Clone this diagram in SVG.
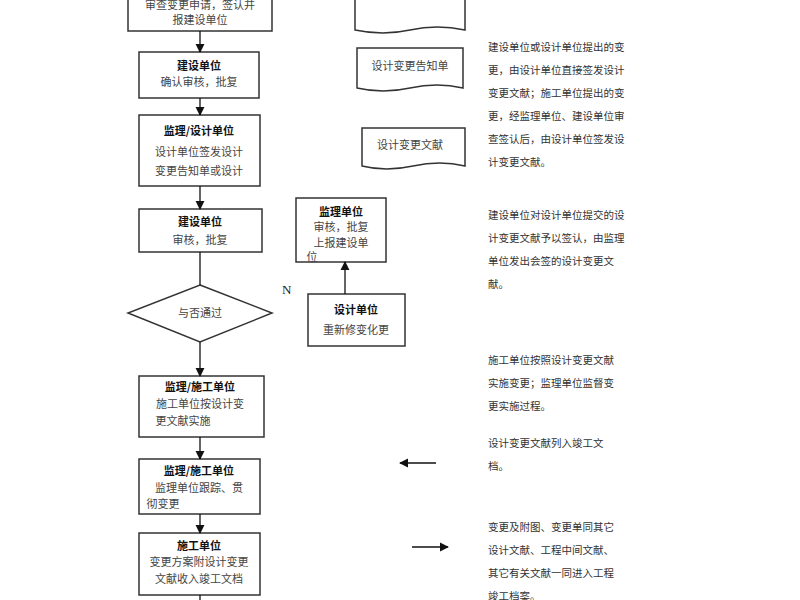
<svg xmlns="http://www.w3.org/2000/svg" width="800" height="600" viewBox="0 0 800 600">
<defs>
<marker id="ah" viewBox="0 0 10 10" refX="9" refY="5" markerWidth="7" markerHeight="7" orient="auto"><path d="M0,0 L10,5 L0,10 z" fill="#111"/></marker>
<style>
.b{fill:#fff;stroke:#333;stroke-width:1.5}
.t{font-family:"Noto Sans CJK SC","Liberation Serif",serif;font-size:11px;fill:#444;text-anchor:middle}
.h{font-weight:bold;fill:#111}
.r{font-family:"Noto Sans CJK SC","Liberation Serif",serif;font-size:10.5px;fill:#333}
.c{stroke:#111;stroke-width:1.3;fill:none}
</style>
</defs>
<rect width="800" height="600" fill="#fff"/>
<g id="n1"><rect class="b" x="128" y="-10" width="144" height="41"/><text class="t" x="200" y="9">审查变更申请，签认并</text><text class="t" x="200" y="24">报建设单位</text></g>
<g id="n2"><rect class="b" x="139" y="52" width="120" height="46"/><text class="t h" x="199" y="70">建设单位</text><text class="t" x="199" y="86">确认审核，批复</text></g>
<g id="n3"><rect class="b" x="139" y="115" width="121" height="71"/><text class="t h" x="199" y="135">监理/设计单位</text><text class="t" x="199" y="156">设计单位签发设计</text><text class="t" x="199" y="175">变更告知单或设计</text></g>
<g id="n4"><rect class="b" x="139" y="209" width="123" height="43"/><text class="t h" x="200" y="226">建设单位</text><text class="t" x="200" y="244">审核，批复</text></g>
<g id="n5"><polygon class="b" points="200,285 272,313 200,342 128,313"/><text class="t" x="200" y="317">与否通过</text></g>
<g id="n6"><rect class="b" x="139" y="376" width="125" height="61"/><text class="t h" x="200" y="391">监理/施工单位</text><text class="t" x="200" y="408">施工单位按设计变</text><text class="t" x="183" y="425">更文献实施</text></g>
<g id="n7"><rect class="b" x="139" y="459" width="121" height="55"/><text class="t h" x="199" y="475">监理/施工单位</text><text class="t" x="199" y="492">监理单位跟踪、贯</text><text class="t" x="163" y="508">彻变更</text></g>
<g id="n8"><rect class="b" x="139" y="533" width="121" height="62"/><text class="t h" x="199" y="550">施工单位</text><text class="t" x="199" y="566">变更方案附设计变更</text><text class="t" x="199" y="583">文献收入竣工文档</text></g>
<g id="n9"><rect class="b" x="296" y="198" width="90" height="64"/><text class="t h" x="341" y="216">监理单位</text><text class="t" x="341" y="231">审核，批复</text><text class="t" x="341" y="247">上报建设单</text><text class="t" x="312" y="261">位</text></g>
<g id="n10"><rect class="b" x="308" y="294" width="97" height="52"/><text class="t h" x="356" y="314">设计单位</text><text class="t" x="356" y="334">重新修变化更</text></g>
<g id="d1"><path class="b" stroke-width="1" d="M355,-5 H465 V30 Q437,24 410,30 T355,30 Z"/></g>
<g id="d2"><path class="b" stroke-width="1" d="M357,48 H463 V88 Q437,82 410,88 T357,88 Z"/><text class="t" x="410" y="70">设计变更告知单</text></g>
<g id="d3"><path class="b" stroke-width="1" d="M362,128 H465 V166 Q440,160 413,166 T362,166 Z"/><text class="t" x="410" y="149">设计变更文献</text></g>
<text x="282" y="294" font-family="Liberation Serif,serif" font-size="13" fill="#222">N</text>
<g id="notes" class="r">
<text x="488" y="51">建设单位或设计单位提出的变</text><text x="488" y="74">更，由设计单位直接签发设计</text><text x="488" y="97">变更文献；施工单位提出的变</text><text x="488" y="120">更，经监理单位、建设单位审</text><text x="488" y="143">查签认后，由设计单位签发设</text><text x="488" y="166">计变更文献。</text>
<text x="488" y="219">建设单位对设计单位提交的设</text><text x="488" y="242">计变更文献予以签认，由监理</text><text x="488" y="265">单位发出会签的设计变更文</text><text x="488" y="288">献。</text>
<text x="488" y="364">施工单位按照设计变更文献</text><text x="488" y="387">实施变更；监理单位监督变</text><text x="488" y="410">更实施过程。</text>
<text x="488" y="447">设计变更文献列入竣工文</text><text x="488" y="470">档。</text>
<text x="488" y="531">变更及附图、变更单同其它</text><text x="488" y="554">设计文献、工程中间文献、</text><text x="488" y="577">其它有关文献一同进入工程</text><text x="488" y="600">竣工档案。</text>
</g>
<g id="connectors">
<line class="c" x1="200" y1="31" x2="200" y2="52" marker-end="url(#ah)"/>
<line class="c" x1="200" y1="98" x2="200" y2="115" marker-end="url(#ah)"/>
<line class="c" x1="200" y1="186" x2="200" y2="209" marker-end="url(#ah)"/>
<line class="c" x1="200" y1="252" x2="200" y2="285"/>
<line class="c" x1="200" y1="342" x2="200" y2="376" marker-end="url(#ah)"/>
<line class="c" x1="200" y1="437" x2="200" y2="459" marker-end="url(#ah)"/>
<line class="c" x1="200" y1="514" x2="200" y2="533" marker-end="url(#ah)"/>
<line class="c" x1="200" y1="595" x2="200" y2="600"/>
<line class="c" x1="345" y1="294" x2="345" y2="262" marker-end="url(#ah)"/>
<line class="c" x1="436" y1="463" x2="400" y2="463" marker-end="url(#ah)"/>
<line class="c" x1="412" y1="547" x2="448" y2="547" marker-end="url(#ah)"/>
</g>
</svg>
